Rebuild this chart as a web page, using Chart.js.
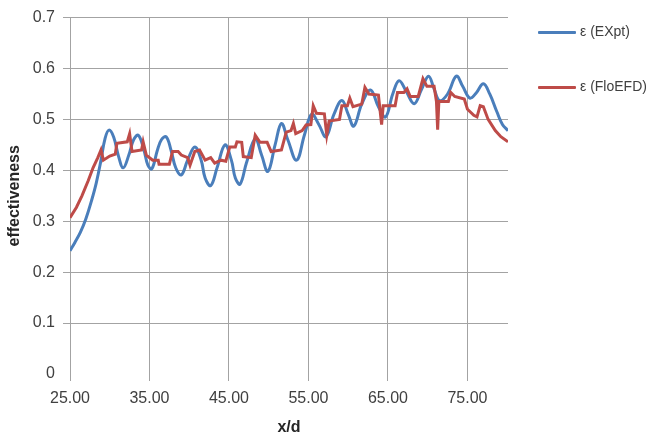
<!DOCTYPE html>
<html>
<head>
<meta charset="utf-8">
<script src="https://cdn.jsdelivr.net/npm/chart.js@4/dist/chart.umd.min.js"></script>
<style>
  html, body { margin: 0; padding: 0; background: #fff; }
  #wrap { position: relative; width: 651px; height: 438px; }
  .leg { position: absolute; left: 538px; font: 14px "Liberation Sans", Arial, sans-serif; color: #404040; white-space: nowrap; }
  .leg span { display: inline-block; width: 38px; height: 3px; vertical-align: middle; margin-right: 4px; border-radius: 1px; }
</style>
</head>
<body>
<div id="wrap">
  <canvas id="chart" width="651" height="438"></canvas>
  <div class="leg" style="top:23px"><span style="background:#4a7ebb"></span>ε (EXpt)</div>
  <div class="leg" style="top:78px"><span style="background:#be4b48"></span>ε (FloEFD)</div>
</div>
<script>
// x/d ticks shown on the axis
var xTicks = [25, 35, 45, 55, 65, 75];

// experiment (blue)
var exptX = [25.0, 25.6, 26.3, 27.0, 27.7, 28.3, 28.9, 29.4, 29.9, 30.5,
             31.1, 31.7, 32.4, 33.0, 33.6, 34.3, 34.8, 35.3, 36.0, 36.5,
             37.1, 37.7, 38.3, 39.0, 39.8, 40.7, 41.5, 42.0, 42.7, 43.5,
             44.5, 45.3, 45.8, 46.4, 47.2, 48.3, 49.1, 49.9, 50.8, 51.6,
             52.4, 53.5, 54.5, 55.4, 56.3, 57.2, 58.2, 59.2, 60.0, 60.7,
             61.7, 62.8, 63.8, 64.7, 65.6, 66.4, 67.3, 68.3, 69.2, 70.1,
             70.8, 71.5, 72.5, 73.6, 74.4, 75.3, 76.1, 77.0, 77.8, 78.7,
             79.4, 80.1];
var exptY = [0.242, 0.258, 0.278, 0.305, 0.340, 0.375, 0.420, 0.462, 0.479, 0.465,
             0.428, 0.405, 0.430, 0.460, 0.469, 0.440, 0.410, 0.403, 0.440, 0.460,
             0.466, 0.440, 0.405, 0.391, 0.420, 0.446, 0.420, 0.385, 0.370, 0.405,
             0.450, 0.420, 0.385, 0.373, 0.415, 0.462, 0.430, 0.398, 0.450, 0.492,
             0.460, 0.420, 0.470, 0.510, 0.490, 0.466, 0.510, 0.537, 0.510, 0.487,
             0.530, 0.558, 0.525, 0.505, 0.550, 0.576, 0.555, 0.531, 0.558, 0.585,
             0.560, 0.537, 0.550, 0.585, 0.565, 0.542, 0.552, 0.570, 0.550, 0.515,
             0.490, 0.478];

// FloEFD simulation (red)
var cfdX = [25.0, 25.8, 26.5, 27.3, 27.9, 28.5, 28.9, 29.2, 30.0, 30.7,
            30.9, 32.2, 32.5, 32.8, 34.0, 34.2, 34.6, 35.4, 36.1, 36.2,
            37.5, 37.9, 38.6, 39.0, 39.8, 40.1, 40.7, 41.3, 42.0, 42.7,
            43.2, 44.0, 44.6, 45.1, 45.8, 46.0, 46.6, 46.8, 47.8, 48.3,
            48.9, 49.8, 50.3, 51.6, 52.2, 52.8, 53.1, 53.4, 54.2, 54.7,
            55.3, 55.6, 56.0, 57.0, 57.3, 57.6, 58.9, 59.2, 59.9, 60.2,
            60.6, 61.7, 62.1, 62.6, 63.8, 64.2, 64.4, 65.9, 66.2, 67.0,
            67.4, 67.8, 68.8, 69.4, 69.9, 70.8, 71.1, 71.25, 71.4, 72.6,
            72.9, 73.4, 74.6, 75.0, 75.8, 76.2, 76.6, 77.0, 77.6, 78.5,
            79.2, 80.1];
var cfdY = [0.307, 0.327, 0.350, 0.380, 0.405, 0.425, 0.440, 0.420, 0.428, 0.432,
            0.453, 0.456, 0.472, 0.437, 0.440, 0.456, 0.430, 0.420, 0.420, 0.412,
            0.412, 0.437, 0.437, 0.430, 0.425, 0.410, 0.437, 0.440, 0.420, 0.425,
            0.414, 0.420, 0.418, 0.446, 0.446, 0.456, 0.455, 0.427, 0.425, 0.469,
            0.455, 0.455, 0.437, 0.440, 0.475, 0.478, 0.492, 0.472, 0.478, 0.489,
            0.490, 0.527, 0.512, 0.511, 0.469, 0.497, 0.500, 0.527, 0.527, 0.542,
            0.525, 0.530, 0.563, 0.550, 0.548, 0.490, 0.527, 0.527, 0.553, 0.553,
            0.560, 0.545, 0.545, 0.580, 0.565, 0.565, 0.535, 0.480, 0.535, 0.535,
            0.553, 0.545, 0.540, 0.520, 0.508, 0.505, 0.527, 0.525, 0.500, 0.478,
            0.466, 0.456];

function pts(xs, ys) {
  return xs.map(function (x, i) { return { x: x, y: ys[i] }; });
}

var gridGray = '#a3a3a3';
var tickFont = { family: '"Liberation Sans", Arial, sans-serif', size: 16 };
var titleFont = { family: '"Liberation Sans", Arial, sans-serif', size: 16, weight: 'bold' };

new Chart(document.getElementById('chart'), {
  type: 'line',
  data: {
    datasets: [{
      label: 'ε (EXpt)',
      data: pts(exptX, exptY),
      borderColor: '#4a7ebb',
      borderWidth: 3,
      pointRadius: 0,
      tension: 0.4,
      order: 1
    }, {
      label: 'ε (FloEFD)',
      data: pts(cfdX, cfdY),
      borderColor: '#be4b48',
      borderWidth: 3,
      pointRadius: 0,
      tension: 0,
      order: 0
    }]
  },
  options: {
    responsive: false,
    animation: false,
    layout: { padding: { top: 15, right: 143, left: 0, bottom: 0 } },
    plugins: { legend: { display: false }, tooltip: { enabled: false } },
    scales: {
      x: {
        type: 'linear',
        min: 25,
        max: 80.1,
        afterBuildTicks: function (s) { s.ticks = xTicks.map(function (v) { return { value: v }; }); },
        afterFit: function (s) { s.height = 64; },
        ticks: { font: tickFont, color: '#404040', padding: 8, maxRotation: 0,
                 callback: function (v) { return v.toFixed(2); } },
        grid: { color: gridGray, tickLength: 7 },
        border: { display: false },
        title: { display: true, text: 'x/d', font: titleFont, color: '#262626', padding: { top: 0, bottom: 1 } }
      },
      y: {
        min: 0,
        max: 0.7,
        afterFit: function (s) { s.width = 70; },
        ticks: { stepSize: 0.1, font: tickFont, color: '#404040', padding: 8 },
        grid: {
          color: function (c) { return c.tick && c.tick.value === 0 ? 'rgba(0,0,0,0)' : gridGray; },
          tickLength: 7
        },
        border: { display: false },
        title: { display: true, text: 'effectiveness', font: titleFont, color: '#262626', padding: { top: 5, bottom: 4 } }
      }
    }
  }
});
</script>
</body>
</html>
